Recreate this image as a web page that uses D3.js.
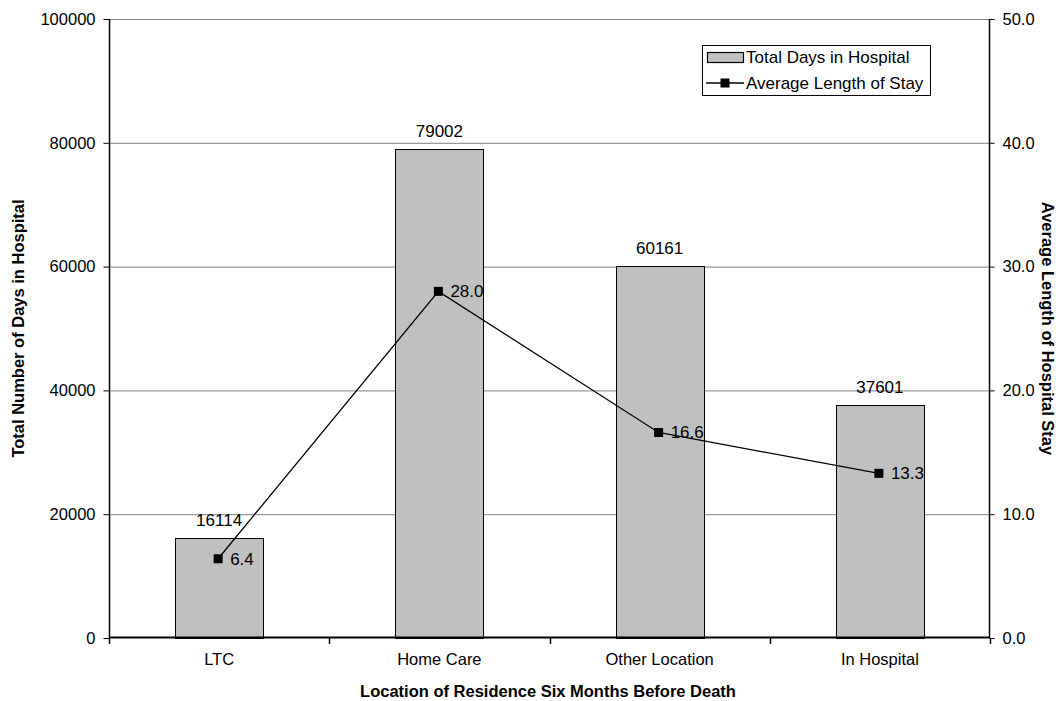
<!DOCTYPE html>
<html><head><meta charset="utf-8">
<script src="https://cdn.jsdelivr.net/npm/d3@7"></script>
<style>body{margin:0;background:#fff}svg{display:block;font-family:"Liberation Sans",Arial,sans-serif}</style>
</head><body>
<svg id="c" width="1062" height="701"></svg>
<script>
const categories = ["LTC", "Home Care", "Other Location", "In Hospital"];
const totalDays = [16114, 79002, 60161, 37601];
const avgStay = [6.4, 28.0, 16.6, 13.3];
const leftTicks = [0, 20000, 40000, 60000, 80000, 100000];
const rightTicks = [0, 10, 20, 30, 40, 50];

const svg = d3.select("#c");
const L = 109, R = 990, T = 19, B = 638;
const xb = d3.scaleBand().domain(categories).range([L, R]);
const yL = d3.scaleLinear().domain([0, 100000]).range([B, T]);
const yR = d3.scaleLinear().domain([0, 50]).range([B, T]);

// gridlines
svg.append("g").selectAll("line").data(leftTicks.slice(1)).join("line")
  .attr("x1", L).attr("x2", R).attr("y1", d => yL(d) + 0.5).attr("y2", d => yL(d) + 0.5)
  .attr("stroke", "#808080").attr("stroke-width", 1);

// bars
svg.append("g").selectAll("rect").data(categories).join("rect")
  .attr("x", d => Math.round(xb(d) + xb.bandwidth() / 2 - 44) + 0.5)
  .attr("width", 88)
  .attr("y", (d, i) => Math.round(yL(totalDays[i])) + 0.5)
  .attr("height", (d, i) => B - Math.round(yL(totalDays[i])))
  .attr("fill", "#C0C0C0").attr("stroke", "#000").attr("stroke-width", 1);

// bar labels
svg.append("g").selectAll("text").data(categories).join("text")
  .attr("x", d => xb(d) + xb.bandwidth() / 2)
  .attr("y", (d, i) => yL(totalDays[i]) - 12)
  .attr("text-anchor", "middle").attr("font-size", 17).attr("fill", "#000")
  .text((d, i) => totalDays[i]);

// axes
const axL = d3.axisLeft(yL).tickValues(leftTicks).tickSize(6).tickPadding(8).tickFormat(d3.format("d"));
const gL = svg.append("g").attr("transform", `translate(${L + 0.5},0)`).call(axL);
const axR = d3.axisRight(yR).tickValues(rightTicks).tickSize(5).tickPadding(8).tickFormat(d3.format(".1f"));
const gR = svg.append("g").attr("transform", `translate(${R - 0.5},0)`).call(axR);
const axB = d3.axisBottom(xb).tickSize(0).tickPadding(16);
const gB = svg.append("g").attr("transform", `translate(0,${B - 0.5})`).call(axB);
[gL, gR, gB].forEach(g => {
  g.selectAll("text").attr("font-size", 16.5).attr("font-family", "Liberation Sans, Arial, sans-serif").attr("fill", "#000");
  g.selectAll("line").attr("stroke", "#000");
  g.select(".domain").attr("stroke", "#000").attr("stroke-width", 1.5);
});
gL.select(".domain").attr("d", `M0,${T}V${B}`);
gR.select(".domain").attr("d", `M0,${T}V${B}`);
gB.select(".domain").attr("d", `M${L},0H${R}`).attr("stroke-width", 2);
// category boundary ticks
const bounds = categories.map(c => xb(c)).concat([R]);
svg.append("g").selectAll("line").data(bounds).join("line")
  .attr("x1", d => Math.round(d) + 0.5).attr("x2", d => Math.round(d) + 0.5)
  .attr("y1", B).attr("y2", B + 6).attr("stroke", "#000").attr("stroke-width", 1.5);

// line series
const cx = d => xb(d) + xb.bandwidth() / 2 - 1;
svg.append("path").datum(categories).attr("d", d3.line().x(d => cx(d)).y(d => yR(avgStay[categories.indexOf(d)])))
  .attr("fill", "none").attr("stroke", "#000").attr("stroke-width", 1.3);
svg.append("g").selectAll("rect").data(categories).join("rect")
  .attr("x", d => cx(d) - 4.5).attr("y", (d, i) => yR(avgStay[i]) - 4.5)
  .attr("width", 9).attr("height", 9).attr("fill", "#000");
svg.append("g").selectAll("text").data(categories).join("text")
  .attr("x", d => cx(d) + 12).attr("y", (d, i) => yR(avgStay[i]) + 6)
  .attr("font-size", 17).attr("fill", "#000")
  .text((d, i) => d3.format(".1f")(avgStay[i]));

// axis titles
svg.append("text").attr("transform", `translate(24,${(T + B) / 2}) rotate(-90)`)
  .attr("text-anchor", "middle").attr("font-size", 16.5).attr("font-weight", "bold").text("Total Number of Days in Hospital");
svg.append("text").attr("transform", `translate(1042,${(T + B) / 2}) rotate(90)`)
  .attr("text-anchor", "middle").attr("font-size", 16.5).attr("font-weight", "bold").text("Average Length of Hospital Stay");
svg.append("text").attr("x", 548).attr("y", 697)
  .attr("text-anchor", "middle").attr("font-size", 16.5).attr("font-weight", "bold").text("Location of Residence Six Months Before Death");

// legend
const lg = svg.append("g");
lg.append("rect").attr("x", 702.5).attr("y", 45.5).attr("width", 228).attr("height", 50)
  .attr("fill", "#fff").attr("stroke", "#000").attr("stroke-width", 1);
lg.append("rect").attr("x", 707.5).attr("y", 52.5).attr("width", 36).attr("height", 10)
  .attr("fill", "#C0C0C0").attr("stroke", "#000").attr("stroke-width", 1.2);
lg.append("text").attr("x", 746).attr("y", 63).attr("font-size", 17).text("Total Days in Hospital");
lg.append("line").attr("x1", 706).attr("x2", 744).attr("y1", 83).attr("y2", 83).attr("stroke", "#000").attr("stroke-width", 1.5);
lg.append("rect").attr("x", 720.5).attr("y", 78.5).attr("width", 9).attr("height", 9).attr("fill", "#000");
lg.append("text").attr("x", 746).attr("y", 89).attr("font-size", 17).text("Average Length of Stay");
</script>
</body></html>
